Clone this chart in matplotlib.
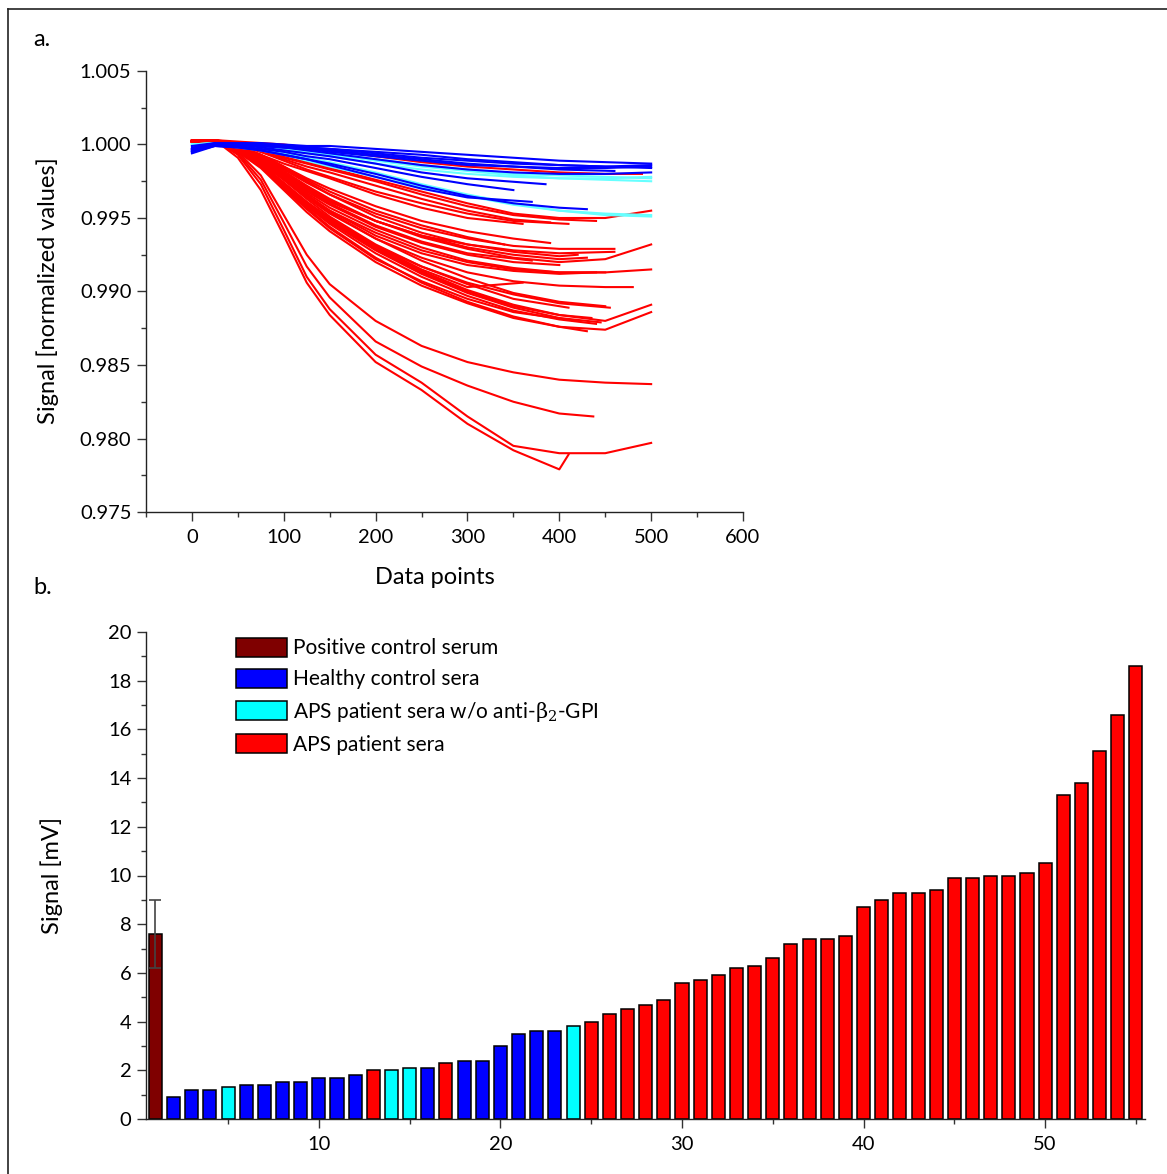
import matplotlib
matplotlib.use("Agg")
import matplotlib.pyplot as plt
from matplotlib.patches import Patch
from matplotlib.lines import Line2D
from matplotlib.ticker import MultipleLocator, FormatStrFormatter

plt.rcParams['font.family'] = ['Lato', 'DejaVu Sans']
plt.rcParams['mathtext.fontset'] = 'dejavuserif'

W, H, DPI = 1167, 1174, 100

# ---------------- panel a: normalized sensor signal vs. data point ----------------
grid = [0, 25, 50, 75, 100, 125, 150, 200, 250, 300, 350, 400, 450, 500]

blue_curves = [
    [0.9999, 1.0001, 1.0001, 1.0001, 1.0000, 0.9999, 0.9999, 0.9997, 0.9995, 0.9993, 0.9991, 0.9989, 0.9988, 0.9987],
    [0.9998, 1.0000, 1.0001, 1.0000, 0.9999, 0.9998, 0.9997, 0.9995, 0.9993, 0.9990, 0.9988, 0.9986, 0.9985, 0.9984],
    [0.9996, 1.0000, 1.0000, 0.9999, 0.9998, 0.9997, 0.9996, 0.9993, 0.9990, 0.9987, 0.9985, 0.9983, 0.9982],
    [0.9995, 1.0000, 1.0000, 0.9999, 0.9998, 0.9996, 0.9994, 0.9990, 0.9986, 0.9983, 0.9981, 0.9980, 0.9980, 0.9981],
    [0.9996, 1.0000, 0.9999, 0.9997, 0.9995, 0.9992, 0.9990, 0.9984, 0.9978, 0.9973, 0.9969],
    [0.9995, 0.9999, 0.9998, 0.9996, 0.9993, 0.9990, 0.9987, 0.9980, 0.9972, 0.9965, 0.9960, 0.9957, 0.9956],
    [0.9994, 0.9999, 0.9998, 0.9996, 0.9993, 0.9990, 0.9986, 0.9978, 0.9970, 0.9964, 0.9961],
    [0.9997, 1.0000, 1.0000, 0.9999, 0.9998, 0.9997, 0.9995, 0.9992, 0.9989, 0.9986, 0.9985, 0.9984, 0.9984, 0.9985],
    [0.9996, 1.0000, 1.0000, 0.9998, 0.9996, 0.9994, 0.9992, 0.9987, 0.9981, 0.9977, 0.9973],
    [0.9997, 1.0001, 1.0001, 1.0000, 0.9999, 0.9998, 0.9997, 0.9994, 0.9991, 0.9989, 0.9987, 0.9986, 0.9985, 0.9986],
]
blue_last_x = [500, 500, 460, 500, 350, 430, 370, 500, 385, 500]

cyan_curves = [
    [1.0000, 1.0001, 1.0000, 0.9999, 0.9997, 0.9995, 0.9993, 0.9989, 0.9985, 0.9982, 0.9979, 0.9977, 0.9976, 0.9975],
    [1.0000, 1.0000, 0.9999, 0.9997, 0.9994, 0.9991, 0.9988, 0.9981, 0.9973, 0.9966, 0.9960, 0.9955, 0.9952, 0.9951],
    [1.0000, 1.0001, 1.0000, 0.9999, 0.9998, 0.9996, 0.9994, 0.9990, 0.9986, 0.9983, 0.9980, 0.9979, 0.9978, 0.9977],
    [1.0000, 1.0000, 0.9998, 0.9996, 0.9993, 0.9989, 0.9985, 0.9978, 0.9971, 0.9965, 0.9959, 0.9955, 0.9953, 0.9952],
    [1.0000, 1.0001, 1.0000, 0.9998, 0.9996, 0.9994, 0.9992, 0.9987, 0.9983, 0.9980, 0.9978, 0.9977, 0.9977, 0.9978],
]
cyan_last_x = [500, 500, 500, 500, 500]

red_curves = [
    [1.0002, 1.0003, 1.0002, 1.0001, 1.0000, 0.9998, 0.9996, 0.9992, 0.9988, 0.9985, 0.9983, 0.9981, 0.9980, 0.9980],
    [1.0002, 1.0003, 1.0001, 0.9997, 0.9992, 0.9988, 0.9984, 0.9976, 0.9968, 0.9960, 0.9953, 0.9950, 0.9950, 0.9955],
    [1.0002, 1.0003, 1.0000, 0.9995, 0.9990, 0.9985, 0.9981, 0.9972, 0.9963, 0.9955, 0.9949, 0.9947],
    [1.0002, 1.0002, 0.9999, 0.9993, 0.9987, 0.9982, 0.9977, 0.9966, 0.9957, 0.9950, 0.9946],
    [1.0003, 1.0003, 1.0000, 0.9996, 0.9991, 0.9987, 0.9983, 0.9975, 0.9966, 0.9958, 0.9952, 0.9949, 0.9948],
    [1.0002, 1.0003, 0.9999, 0.9992, 0.9983, 0.9974, 0.9966, 0.9953, 0.9943, 0.9936, 0.9931, 0.9929, 0.9929],
    [1.0002, 1.0002, 0.9998, 0.9990, 0.9980, 0.9970, 0.9961, 0.9948, 0.9938, 0.9932, 0.9928, 0.9926, 0.9927],
    [1.0002, 1.0003, 0.9999, 0.9991, 0.9982, 0.9972, 0.9963, 0.9948, 0.9937, 0.9929, 0.9923, 0.9920, 0.9922, 0.9932],
    [1.0002, 1.0002, 0.9998, 0.9989, 0.9978, 0.9967, 0.9957, 0.9942, 0.9930, 0.9921, 0.9916, 0.9913, 0.9913, 0.9915],
    [1.0003, 1.0002, 0.9997, 0.9988, 0.9976, 0.9964, 0.9953, 0.9936, 0.9923, 0.9913, 0.9907, 0.9904, 0.9903, 0.9903],
    [1.0002, 1.0003, 0.9998, 0.9990, 0.9979, 0.9968, 0.9959, 0.9944, 0.9933, 0.9925, 0.9920, 0.9918],
    [1.0003, 1.0003, 0.9999, 0.9993, 0.9985, 0.9976, 0.9968, 0.9955, 0.9945, 0.9937, 0.9932],
    [1.0002, 1.0002, 0.9997, 0.9989, 0.9978, 0.9966, 0.9955, 0.9938, 0.9926, 0.9918, 0.9914, 0.9912, 0.9913],
    [1.0002, 1.0003, 0.9998, 0.9991, 0.9981, 0.9971, 0.9962, 0.9948, 0.9938, 0.9930, 0.9925, 0.9922, 0.9923],
    [1.0002, 1.0002, 0.9999, 0.9992, 0.9984, 0.9975, 0.9966, 0.9951, 0.9940, 0.9932, 0.9927, 0.9924, 0.9925],
    [1.0002, 1.0002, 0.9996, 0.9986, 0.9973, 0.9960, 0.9948, 0.9929, 0.9913, 0.9900, 0.9890, 0.9884, 0.9880, 0.9891],
    [1.0002, 1.0002, 0.9996, 0.9985, 0.9971, 0.9957, 0.9944, 0.9923, 0.9906, 0.9893, 0.9883, 0.9876, 0.9874, 0.9886],
    [1.0003, 1.0002, 0.9997, 0.9987, 0.9974, 0.9961, 0.9949, 0.9930, 0.9914, 0.9901, 0.9891, 0.9884, 0.9882],
    [1.0002, 1.0002, 0.9996, 0.9986, 0.9972, 0.9958, 0.9946, 0.9926, 0.9910, 0.9897, 0.9887, 0.9881, 0.9878],
    [1.0002, 1.0003, 0.9997, 0.9988, 0.9976, 0.9963, 0.9951, 0.9932, 0.9917, 0.9905, 0.9895, 0.9889],
    [1.0002, 1.0002, 0.9995, 0.9984, 0.9969, 0.9954, 0.9941, 0.9920, 0.9904, 0.9892, 0.9882, 0.9876, 0.9873],
    [1.0002, 1.0002, 0.9997, 0.9987, 0.9974, 0.9961, 0.9950, 0.9931, 0.9915, 0.9903, 0.9906],
    [1.0003, 1.0003, 0.9998, 0.9989, 0.9977, 0.9965, 0.9954, 0.9936, 0.9921, 0.9909, 0.9899, 0.9893, 0.9890],
    [1.0002, 1.0002, 0.9996, 0.9985, 0.9970, 0.9956, 0.9943, 0.9922, 0.9907, 0.9895, 0.9886, 0.9880],
    [1.0002, 1.0003, 0.9999, 0.9993, 0.9985, 0.9977, 0.9970, 0.9958, 0.9948, 0.9941, 0.9936, 0.9933],
    [1.0002, 1.0002, 0.9997, 0.9988, 0.9977, 0.9965, 0.9955, 0.9940, 0.9928, 0.9920, 0.9915, 0.9913, 0.9913],
    [1.0002, 1.0002, 0.9996, 0.9985, 0.9972, 0.9959, 0.9947, 0.9928, 0.9912, 0.9899, 0.9889, 0.9882, 0.9879],
    [1.0003, 1.0002, 0.9998, 0.9990, 0.9980, 0.9969, 0.9960, 0.9945, 0.9934, 0.9926, 0.9921],
    [1.0002, 1.0003, 1.0000, 0.9995, 0.9989, 0.9983, 0.9978, 0.9968, 0.9960, 0.9953, 0.9948, 0.9946],
    [1.0002, 1.0002, 0.9996, 0.9986, 0.9973, 0.9960, 0.9949, 0.9931, 0.9917, 0.9906, 0.9898, 0.9892, 0.9889],
    [1.0002, 1.0003, 0.9993, 0.9973, 0.9942, 0.9910, 0.9888, 0.9857, 0.9838, 0.9815, 0.9795, 0.9790, 0.9790, 0.9797],
    [1.0002, 1.0003, 0.9991, 0.9969, 0.9938, 0.9906, 0.9884, 0.9852, 0.9833, 0.9810, 0.9792, 0.9779, 0.9789],
    [1.0002, 1.0002, 0.9994, 0.9976, 0.9947, 0.9917, 0.9896, 0.9866, 0.9849, 0.9836, 0.9825, 0.9817, 0.9815],
    [1.0002, 1.0002, 0.9995, 0.9979, 0.9952, 0.9925, 0.9905, 0.9880, 0.9863, 0.9852, 0.9845, 0.9840, 0.9838, 0.9837],
]
red_last_x = [490, 500, 390, 360, 440, 460, 460, 500, 500, 480, 400, 340, 440, 430, 420,
              500, 500, 435, 440, 410, 430, 360, 450, 420, 390, 450, 445, 370, 410, 455,
              500, 410, 437, 500]

# ---------------- panel b: signal per serum sample ----------------
sample_no = list(range(1, 56))
signal_mv = [7.6, 0.9, 1.2, 1.2, 1.3, 1.4, 1.4, 1.5, 1.5, 1.7, 1.7, 1.8, 2.0, 2.0, 2.1,
             2.1, 2.3, 2.4, 2.4, 3.0, 3.5, 3.6, 3.6, 3.8, 4.0, 4.3, 4.5, 4.7, 4.9, 5.6,
             5.7, 5.9, 6.2, 6.3, 6.6, 7.2, 7.4, 7.4, 7.5, 8.7, 9.0, 9.3, 9.3, 9.4, 9.9,
             9.9, 10.0, 10.0, 10.1, 10.5, 13.3, 13.8, 15.1, 16.6, 18.6]
# P = positive control, H = healthy control, N = APS w/o anti-b2-GPI, A = APS patient
group_codes = "PHHHNHHHHHHHANNHAHHHHHHN" + "A" * 31
positive_err = 1.4

group_colors = {'P': '#7f0000', 'H': '#0000ff', 'N': '#00ffff', 'A': '#ff0000'}
group_labels = {'P': 'Positive control serum',
                'H': 'Healthy control sera',
                'N': r'APS patient sera w/o anti-$\mathrm{\beta}_2$-GPI',
                'A': 'APS patient sera'}

line_colors = {'blue': '#0000ff', 'cyan': '#66ffff', 'red': '#ff0000'}


def curve_xy(vals, last_x):
    xs = grid[:len(vals) - 1] + [last_x]
    return xs, vals


fig = plt.figure(figsize=(W / DPI, H / DPI), dpi=DPI)


def px_rect(left, top, right, bottom):
    return [left / W, 1 - bottom / H, (right - left) / W, (bottom - top) / H]


TICK_FS = 14.5
LABEL_FS = 17
LEGEND_FS = 15
spine_c = '#222222'


def style_axes(ax):
    for s in ('top', 'right'):
        ax.spines[s].set_visible(False)
    for s in ('left', 'bottom'):
        ax.spines[s].set_color(spine_c)
        ax.spines[s].set_linewidth(1.0)
    ax.tick_params(which='major', direction='out', length=6.5, width=1.0,
                   color='#333333', labelsize=TICK_FS, pad=4)
    ax.tick_params(which='minor', direction='out', length=3.5, width=1.0, color='#333333')
    ax.tick_params(axis='x', which='major', pad=6)


# panel a
ax1 = fig.add_axes(px_rect(146, 71, 743, 512))
for vals, lx in zip(red_curves, red_last_x):
    x, y = curve_xy(vals, lx)
    ax1.plot(x, y, color=line_colors['red'], lw=1.5)
for vals, lx in zip(cyan_curves, cyan_last_x):
    x, y = curve_xy(vals, lx)
    ax1.plot(x, y, color=line_colors['cyan'], lw=1.5)
for vals, lx in zip(blue_curves, blue_last_x):
    x, y = curve_xy(vals, lx)
    ax1.plot(x, y, color=line_colors['blue'], lw=1.5)

ax1.set_xlim(-50, 600)
ax1.set_ylim(0.975, 1.005)
ax1.xaxis.set_major_locator(MultipleLocator(100))
ax1.xaxis.set_minor_locator(MultipleLocator(50))
ax1.yaxis.set_major_locator(MultipleLocator(0.005))
ax1.yaxis.set_minor_locator(MultipleLocator(0.0025))
ax1.yaxis.set_major_formatter(FormatStrFormatter('%.3f'))
style_axes(ax1)
ax1.set_xlabel('Data points', fontsize=LABEL_FS)
ax1.set_ylabel('Signal [normalized values]', fontsize=LABEL_FS)
ax1.xaxis.set_label_coords(0.484, -0.125)
ax1.yaxis.set_label_coords(-0.146, 0.503)

# panel b
ax2 = fig.add_axes(px_rect(146, 632, 1145, 1119))
bar_colors = [group_colors[g] for g in group_codes]
ax2.bar(sample_no, signal_mv, width=0.72, color=bar_colors, edgecolor='black',
        linewidth=1.1, zorder=2)
ax2.errorbar(sample_no[0], signal_mv[0], yerr=positive_err, fmt='none',
             ecolor='#444444', elinewidth=1.2, capsize=4, capthick=1.2, zorder=3)
ax2.set_xlim(0.48, 55.5)
ax2.set_ylim(0, 20)
ax2.xaxis.set_major_locator(MultipleLocator(10))
ax2.xaxis.set_minor_locator(MultipleLocator(5))
ax2.yaxis.set_major_locator(MultipleLocator(2))
ax2.yaxis.set_minor_locator(MultipleLocator(1))
style_axes(ax2)
ax2.set_ylabel('Signal [mV]', fontsize=LABEL_FS)
ax2.yaxis.set_label_coords(-0.083, 0.5)

handles = [Patch(facecolor=group_colors[k], edgecolor='black', linewidth=1.1) for k in 'PHNA']
ax2.legend(handles, [group_labels[k] for k in 'PHNA'], loc='upper left',
           bbox_to_anchor=((236 - 146) / 999, (1119 - 638) / 487),
           frameon=False, fontsize=LEGEND_FS, handlelength=2.45, handleheight=1.0,
           handletextpad=0.3, labelspacing=0.5, borderpad=0.0, borderaxespad=0.0)

# panel letters
fig.text(33 / W, 1 - 40 / H, 'a.', fontsize=LABEL_FS, ha='left', va='center')
fig.text(33 / W, 1 - 587 / H, 'b.', fontsize=LABEL_FS, ha='left', va='center')

# outer frame
fig.add_artist(Line2D([8 / W, 1.0], [1 - 9 / H, 1 - 9 / H], color='#222222', lw=1.2,
                      transform=fig.transFigure))
fig.add_artist(Line2D([8 / W, 8 / W], [0.0, 1 - 9 / H], color='#222222', lw=1.2,
                      transform=fig.transFigure))

fig.savefig('out.png', dpi=DPI)
